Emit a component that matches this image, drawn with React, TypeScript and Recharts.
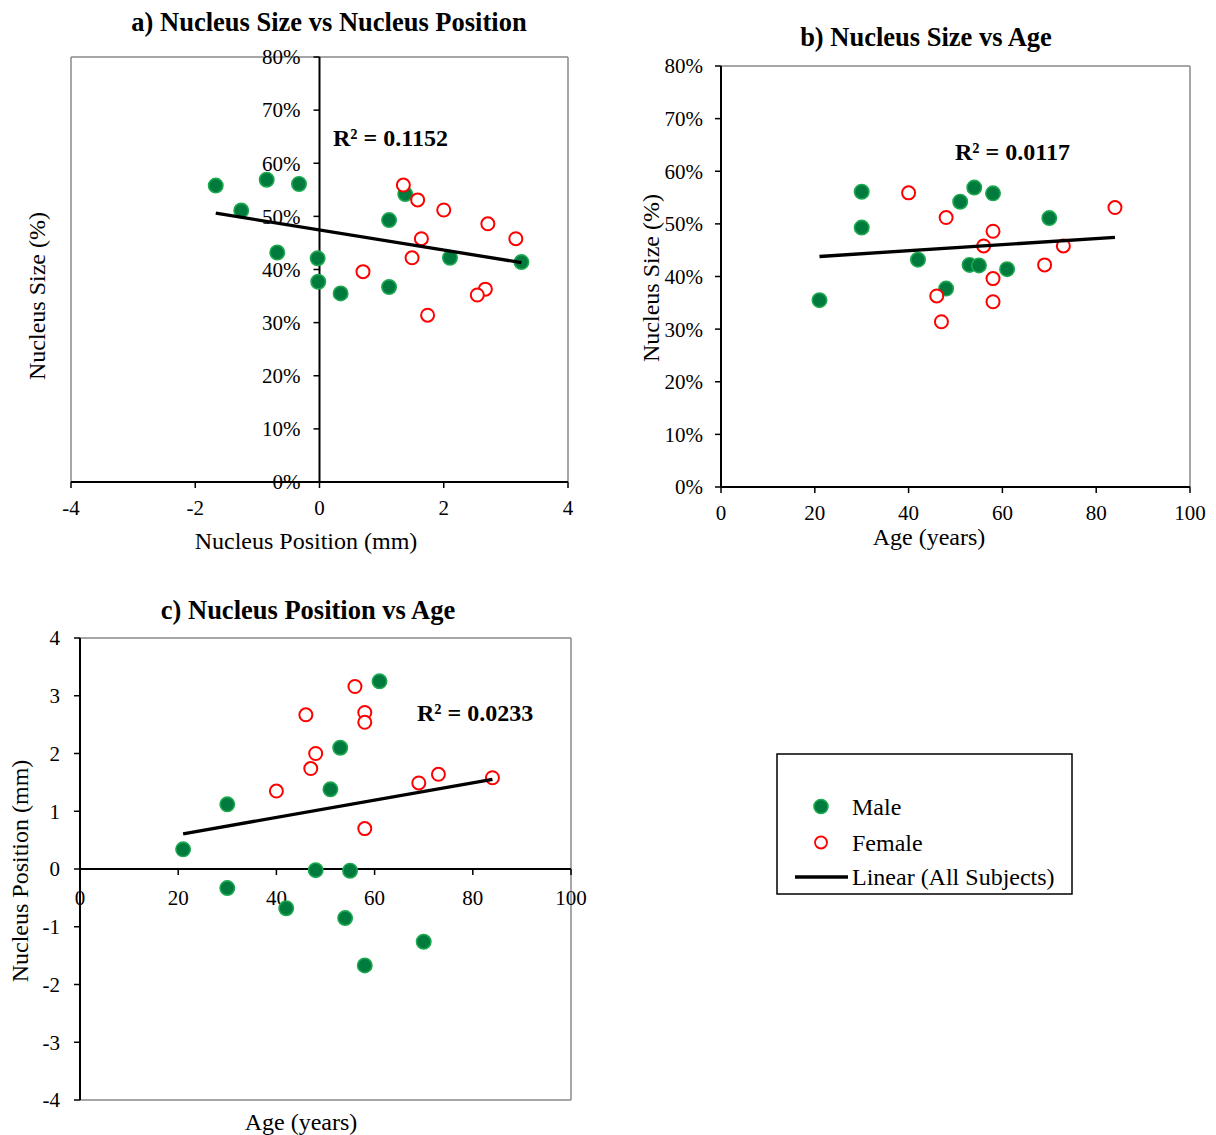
import React from 'react';
import { ScatterChart, Scatter, XAxis, YAxis, ReferenceLine, ReferenceDot } from 'recharts';

const SERIF = '"Liberation Serif", "Times New Roman", serif';

// ---- Subjects (position mm, size %, age years) ----
const MALE_POS = [0.34, 1.12, -0.33, -0.68, -0.02, 1.38, 2.1, -0.85, -0.03, -1.67, 3.25, -1.26, 1.12];
const MALE_SIZE = [35.5, 49.3, 56.1, 43.2, 37.7, 54.2, 42.2, 56.9, 42.1, 55.8, 41.4, 51.1, 36.7];
const MALE_AGE: (number | null)[] = [21, 30, 30, 42, 48, 51, 53, 54, 55, 58, 61, 70, null];

const FEMALE_POS = [1.35, 2.67, 1.74, 2.0, 3.16, 2.71, 2.54, 0.7, 1.49, 1.64, 1.58];
const FEMALE_SIZE = [55.9, 36.3, 31.4, 51.2, 45.8, 48.6, 35.2, 39.6, 42.2, 45.8, 53.1];
const FEMALE_AGE = [40, 46, 47, 48, 56, 58, 58, 58, 69, 73, 84];

// ---- Linear trendlines (All Subjects) ----
const TREND_A_POS = [-1.67, 3.25];
const TREND_A_SIZE = [50.6, 41.3];
const TREND_B_AGE = [21, 84];
const TREND_B_SIZE = [43.8, 47.45];
const TREND_C_AGE = [21, 84];
const TREND_C_POS = [0.61, 1.55];

// ---- Ticks ----
const A_X_TICKS = [-4, -2, 0, 2, 4];
const A_Y_TICKS = [0, 10, 20, 30, 40, 50, 60, 70, 80];
const B_X_TICKS = [0, 20, 40, 60, 80, 100];
const B_Y_TICKS = [0, 10, 20, 30, 40, 50, 60, 70, 80];
const C_X_TICKS = [0, 20, 40, 60, 80, 100];
const C_Y_TICKS = [-4, -3, -2, -1, 0, 1, 2, 3, 4];

const R2_A = 'R² = 0.1152';
const R2_B = 'R² = 0.0117';
const R2_C = 'R² = 0.0233';

// ---- Built tables ----
const pairs = (xs: (number | null)[], ys: number[]) =>
  xs.map((x, i) => ({ x, y: ys[i] })).filter((d) => d.x !== null && d.x !== undefined);

const maleA = pairs(MALE_POS, MALE_SIZE);
const femaleA = pairs(FEMALE_POS, FEMALE_SIZE);
const trendA = pairs(TREND_A_POS, TREND_A_SIZE);
const maleB = pairs(MALE_AGE, MALE_SIZE);
const femaleB = pairs(FEMALE_AGE, FEMALE_SIZE);
const trendB = pairs(TREND_B_AGE, TREND_B_SIZE);
const maleC = pairs(MALE_AGE, MALE_POS);
const femaleC = pairs(FEMALE_AGE, FEMALE_POS);
const trendC = pairs(TREND_C_AGE, TREND_C_POS);

const MALE_FILL = '#007A3D';
const MALE_RING = '#1BA84F';
const RED = '#FF0000';
const BORDER = '#898989';
const TREND_W = 3.3;

const MaleShape = (p: any) => (
  <circle cx={p.cx} cy={p.cy} r={7.2} fill={MALE_FILL} stroke={MALE_RING} strokeWidth={1.6} />
);
const FemaleShape = (p: any) => (
  <circle cx={p.cx} cy={p.cy} r={6.5} fill="#fff" stroke={RED} strokeWidth={2} />
);
const NoShape = () => <g />;

const tickStyle = { fill: '#000', fontSize: 21, fontFamily: SERIF };
const axisLine = { stroke: '#000', strokeWidth: 2 };
const tickLine = { stroke: '#000', strokeWidth: 1.5 };

const yTickAtZero = (label: string) => (p: any) => (
  <g>
    <line x1={p.cx - 6} y1={p.cy} x2={p.cx} y2={p.cy} stroke="#000" strokeWidth={1.5} />
    <text x={p.cx - 19} y={p.cy} dy="0.35em" textAnchor="end" fill="#000" fontSize={21} fontFamily={SERIF}>
      {label}
    </text>
  </g>
);

const xTickAtZero = (label: string) => (p: any) => (
  <g>
    <line x1={p.cx} y1={p.cy} x2={p.cx} y2={p.cy + 6} stroke="#000" strokeWidth={1.5} />
    <text x={p.cx} y={p.cy + 28.5} dy="0.35em" textAnchor="middle" fill="#000" fontSize={21} fontFamily={SERIF}>
      {label}
    </text>
  </g>
);

function ChartA() {
  return (
    <ScatterChart width={600} height={560} margin={{ top: 57, right: 32, bottom: 38, left: 71 }}>
      <XAxis
        type="number"
        dataKey="x"
        domain={[-4, 4]}
        ticks={A_X_TICKS}
        interval={0}
        height={40}
        tickSize={6}
        tickMargin={12}
        axisLine={axisLine}
        tickLine={tickLine}
        tick={tickStyle}
      />
      <YAxis type="number" dataKey="y" domain={[0, 80]} hide width={0} />
      <ReferenceLine y={80} stroke={BORDER} strokeWidth={1.5} />
      <ReferenceLine x={-4} stroke={BORDER} strokeWidth={1.5} />
      <ReferenceLine x={4} stroke={BORDER} strokeWidth={1.5} />
      <ReferenceLine x={0} stroke="#000" strokeWidth={2} />
      {A_Y_TICKS.map((v) => (
        <ReferenceDot key={v} x={0} y={v} r={0} shape={yTickAtZero(`${v}%`)} />
      ))}
      <Scatter data={maleA} shape={MaleShape} isAnimationActive={false} />
      <Scatter data={femaleA} shape={FemaleShape} isAnimationActive={false} />
      <Scatter data={trendA} shape={NoShape} line={{ stroke: '#000', strokeWidth: TREND_W }} isAnimationActive={false} />
    </ScatterChart>
  );
}

function ChartB() {
  return (
    <ScatterChart width={616} height={560} margin={{ top: 66, right: 26, bottom: 33, left: 51 }}>
      <XAxis
        type="number"
        dataKey="x"
        domain={[0, 100]}
        ticks={B_X_TICKS}
        interval={0}
        height={40}
        tickSize={6}
        tickMargin={12}
        axisLine={axisLine}
        tickLine={tickLine}
        tick={tickStyle}
      />
      <YAxis
        type="number"
        dataKey="y"
        domain={[0, 80]}
        ticks={B_Y_TICKS}
        interval={0}
        width={70}
        tickSize={6}
        tickMargin={12}
        axisLine={axisLine}
        tickLine={tickLine}
        tick={tickStyle}
        tickFormatter={(v: number) => `${v}%`}
      />
      <ReferenceLine y={80} stroke={BORDER} strokeWidth={1.5} />
      <ReferenceLine x={100} stroke={BORDER} strokeWidth={1.5} />
      <Scatter data={maleB} shape={MaleShape} isAnimationActive={false} />
      <Scatter data={femaleB} shape={FemaleShape} isAnimationActive={false} />
      <Scatter data={trendB} shape={NoShape} line={{ stroke: '#000', strokeWidth: TREND_W }} isAnimationActive={false} />
    </ScatterChart>
  );
}

function ChartC() {
  return (
    <ScatterChart width={600} height={565} margin={{ top: 68, right: 29, bottom: 35, left: 20 }}>
      <XAxis type="number" dataKey="x" domain={[0, 100]} hide height={0} />
      <YAxis
        type="number"
        dataKey="y"
        domain={[-4, 4]}
        ticks={C_Y_TICKS}
        interval={0}
        width={60}
        tickSize={6}
        tickMargin={14}
        axisLine={axisLine}
        tickLine={tickLine}
        tick={tickStyle}
      />
      <ReferenceLine y={4} stroke={BORDER} strokeWidth={1.5} />
      <ReferenceLine y={-4} stroke={BORDER} strokeWidth={1.5} />
      <ReferenceLine x={100} stroke={BORDER} strokeWidth={1.5} />
      <ReferenceLine y={0} stroke="#000" strokeWidth={2} />
      {C_X_TICKS.map((v) => (
        <ReferenceDot key={v} x={v} y={0} r={0} shape={xTickAtZero(`${v}`)} />
      ))}
      <Scatter data={maleC} shape={MaleShape} isAnimationActive={false} />
      <Scatter data={femaleC} shape={FemaleShape} isAnimationActive={false} />
      <Scatter data={trendC} shape={NoShape} line={{ stroke: '#000', strokeWidth: TREND_W }} isAnimationActive={false} />
    </ScatterChart>
  );
}

const T = (props: any) => (
  <text
    fontFamily={SERIF}
    fill="#000"
    dominantBaseline="central"
    textAnchor={props.anchor || 'middle'}
    fontSize={props.size}
    fontWeight={props.bold ? 'bold' : 'normal'}
    x={props.x}
    y={props.y}
    transform={props.rotate ? `rotate(-90 ${props.x} ${props.y})` : undefined}
  >
    {props.children}
  </text>
);

export default function App() {
  return (
    <div style={{ position: 'absolute', left: 0, top: 0, width: 1216, height: 1135, background: '#fff' }}>
      <div style={{ position: 'absolute', left: 0, top: 0 }}>
        <ChartA />
      </div>
      <div style={{ position: 'absolute', left: 600, top: 0 }}>
        <ChartB />
      </div>
      <div style={{ position: 'absolute', left: 0, top: 570 }}>
        <ChartC />
      </div>
      <svg
        width={1216}
        height={1135}
        style={{ position: 'absolute', left: 0, top: 0, pointerEvents: 'none' }}
      >
        <T x={329} y={22} size={26.5} bold>a) Nucleus Size vs Nucleus Position</T>
        <T x={926} y={37} size={26.5} bold>b) Nucleus Size vs Age</T>
        <T x={308} y={610} size={26.5} bold>c) Nucleus Position vs Age</T>

        <T x={37} y={296} size={24} rotate>Nucleus Size (%)</T>
        <T x={306} y={541} size={24}>Nucleus Position (mm)</T>
        <T x={651} y={278} size={24} rotate>Nucleus Size (%)</T>
        <T x={929} y={537} size={24}>Age (years)</T>
        <T x={20} y={871} size={24} rotate>Nucleus Position (mm)</T>
        <T x={301} y={1122} size={24}>Age (years)</T>

        <T x={333} y={138} size={24} bold anchor="start">{R2_A}</T>
        <T x={955} y={152} size={24} bold anchor="start">{R2_B}</T>
        <T x={417} y={713} size={24} bold anchor="start">{R2_C}</T>

        <rect x={777} y={754} width={295} height={140} fill="#fff" stroke="#000" strokeWidth={1.5} />
        <circle cx={821} cy={806.5} r={7} fill={MALE_FILL} stroke={MALE_RING} strokeWidth={1.6} />
        <T x={852} y={806.5} size={24} anchor="start">Male</T>
        <circle cx={821} cy={842.5} r={6} fill="#fff" stroke={RED} strokeWidth={1.8} />
        <T x={852} y={842.5} size={24} anchor="start">Female</T>
        <line x1={795} y1={877} x2={848} y2={877} stroke="#000" strokeWidth={3.5} />
        <T x={852} y={877} size={24} anchor="start">Linear (All Subjects)</T>
      </svg>
    </div>
  );
}
